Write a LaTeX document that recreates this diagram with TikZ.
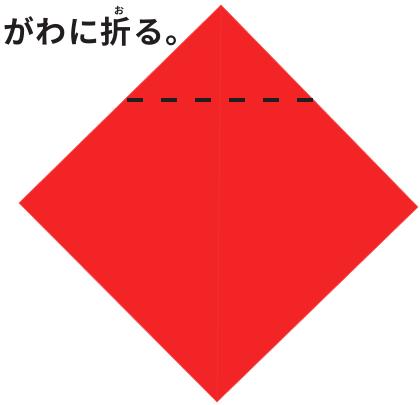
\documentclass[tikz,border=0pt]{standalone}
\usepackage{fontspec}
\newfontfamily\jp[LetterSpace=5]{Noto Sans CJK JP Bold}
\definecolor{paper}{RGB}{243,36,38}
\definecolor{crease}{RGB}{246,52,54}
\definecolor{ink}{RGB}{35,30,30}
\begin{document}
\begin{tikzpicture}[x=1pt,y=-1pt,
  sheet/.style={fill=paper,draw=paper!70!white,line width=0.6pt,line join=round},
  foldline/.style={draw=ink,line width=3.5pt,dash pattern=on 16pt off 18pt},
  label/.style={inner sep=0pt,anchor=base west,text=ink}]
\useasboundingbox (0,0) rectangle (420,404);
\fill[white] (0,0) rectangle (420,404);
\coordinate (T) at (221,5);
\coordinate (R) at (418,207);
\coordinate (B) at (217,402);
\coordinate (L) at (19,203);
\path[sheet] (T) -- (R) -- (B) -- (L) -- cycle;
\draw[crease,line width=0.5pt] (T) -- (B);
\coordinate (d1) at (127,100);
\coordinate (d2) at (313,100);
\draw[foldline] (d1) -- (d2);
\node[label,font=\jp\fontsize{31}{31}\selectfont] (txt) at (3,44) {がわに折る。};
\node[label,font=\jp\fontsize{10}{10}\selectfont] (ruby) at (114,15) {お};
\end{tikzpicture}
\end{document}
